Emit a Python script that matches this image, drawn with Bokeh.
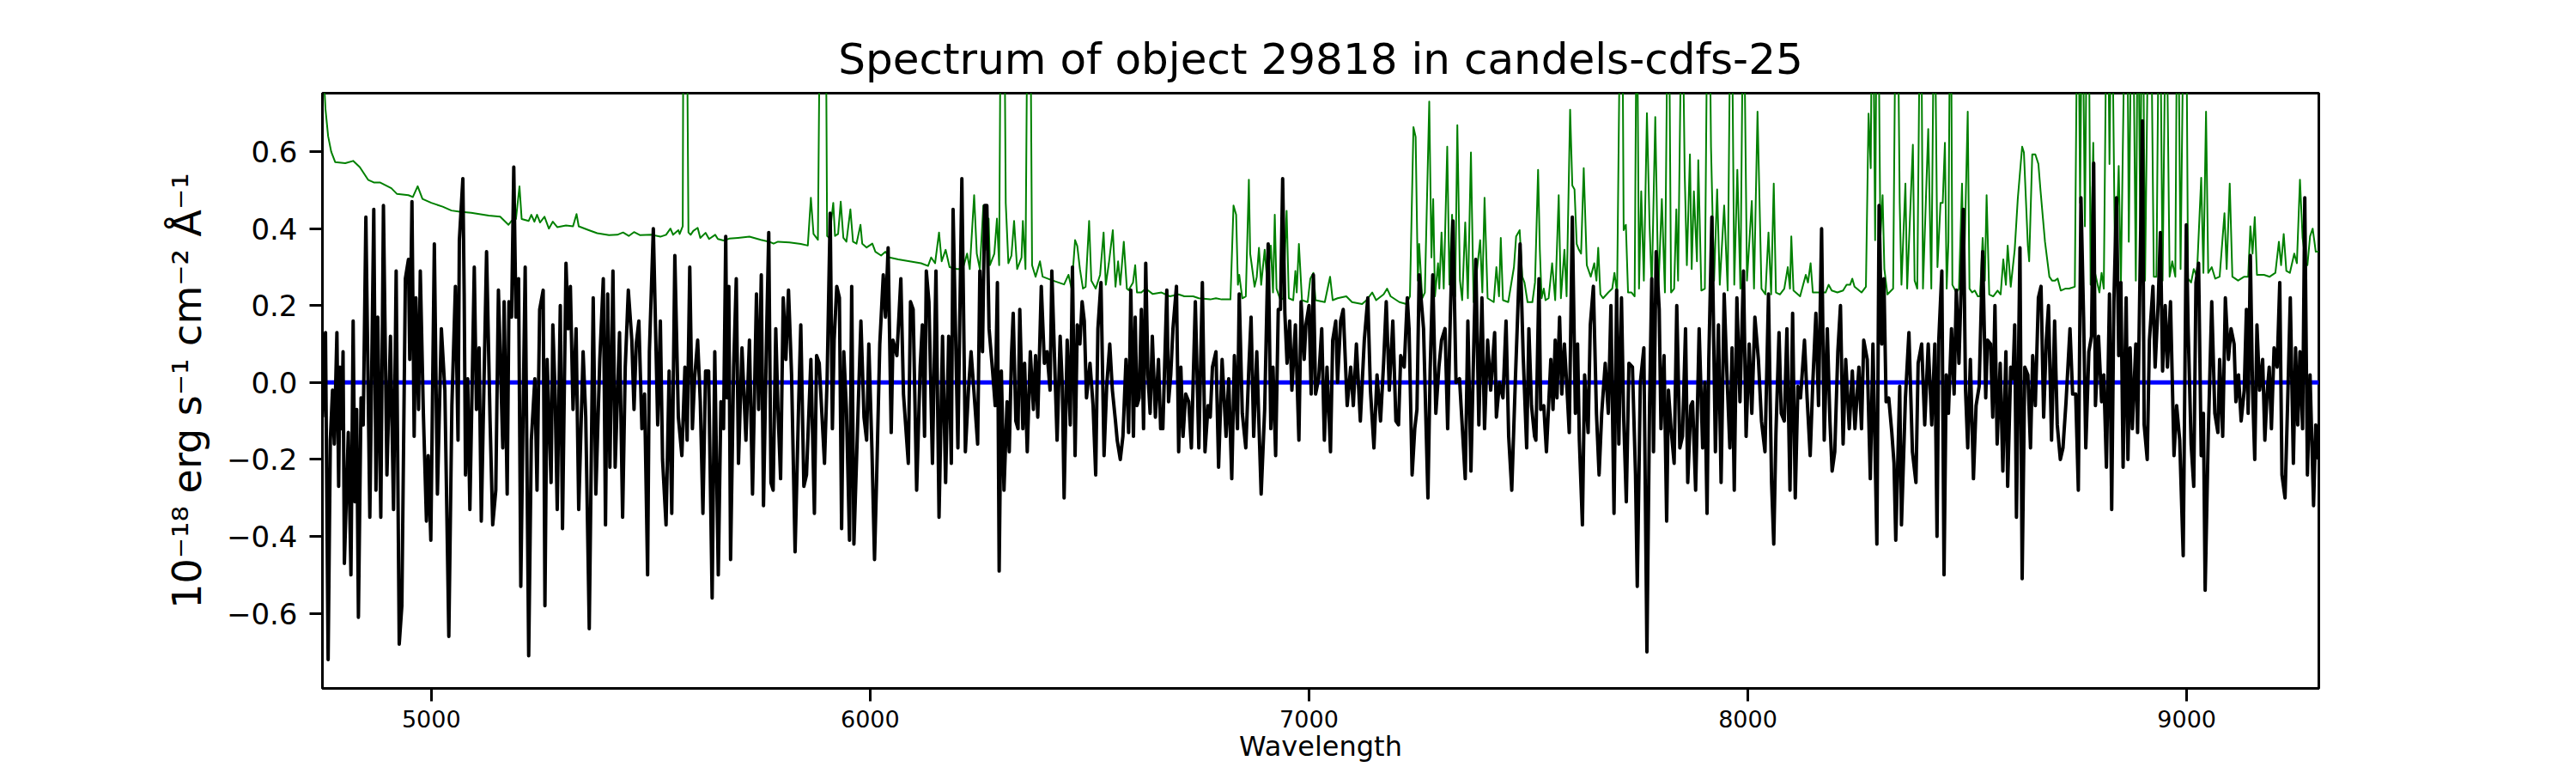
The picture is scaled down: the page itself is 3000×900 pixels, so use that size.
from bokeh.plotting import figure
from bokeh.models import Range1d, FixedTicker, CustomJSTickFormatter
from bokeh.embed import file_html
from bokeh.resources import INLINE

# ---------------- data ----------------
# observed flux, 1e-18 erg/s/cm2/A : (wavelength [A], flux)
flux_a = [(4752, -0.09), (4759, 0.13), (4765, -0.72), (4770, -0.15), (4775, -0.02), (4779, -0.16),
          (4785, 0.13), (4789, -0.27), (4792, 0.04), (4796, -0.12), (4799, 0.08), (4802, -0.47),
          (4811, -0.13), (4817, -0.50), (4822, 0.16), (4826, -0.31), (4830, -0.07), (4834, -0.61),
          (4840, -0.04), (4845, -0.11), (4851, 0.43), (4860, -0.35), (4869, 0.45), (4874, -0.28),
          (4878, 0.17), (4885, -0.35), (4891, 0.46), (4899, -0.24), (4907, 0.12), (4914, -0.33),
          (4920, 0.29), (4927, -0.68), (4933, -0.58), (4941, 0.27), (4948, 0.32), (4951, 0.06),
          (4956, 0.47), (4961, -0.14), (4965, 0.22), (4971, -0.07), (4975, 0.29), (4982, -0.08),
          (4989, -0.36), (4993, -0.19), (4999, -0.41), (5007, 0.36), (5014, -0.29), (5023, 0.14),
          (5031, -0.02), (5040, -0.66), (5047, -0.06), (5055, 0.25), (5061, -0.15), (5064, 0.37),
          (5072, 0.53), (5075, 0.23), (5078, -0.24), (5083, 0.01), (5088, -0.33), (5098, 0.30),
          (5103, -0.07), (5109, 0.09), (5114, -0.36), (5126, 0.34), (5134, -0.10), (5140, -0.37),
          (5147, -0.28), (5153, 0.24), (5163, -0.17), (5166, 0.21), (5173, -0.29), (5177, 0.21),
          (5183, 0.17), (5188, 0.56), (5193, 0.17), (5199, 0.27), (5204, -0.53), (5209, -0.10),
          (5214, 0.30), (5222, -0.71), (5228, -0.15), (5236, 0.01), (5241, -0.28), (5247, 0.19),
          (5255, 0.24), (5259, -0.58), (5264, 0.06), (5273, -0.26), (5277, 0.15), (5282, -0.02),
          (5287, -0.33), (5294, 0.20), (5299, -0.38), (5307, 0.31), (5312, 0.14), (5317, 0.25),
          (5323, -0.07), (5330, 0.14), (5336, -0.33), (5346, 0.08), (5352, -0.09), (5360, -0.64),
          (5369, 0.22), (5375, -0.29), (5384, 0.06), (5392, 0.27), (5397, -0.37), (5402, 0.23),
          (5407, -0.22), (5414, 0.29), (5419, -0.22), (5429, 0.13), (5436, -0.35), (5442, 0.04),
          (5449, 0.24), (5457, 0.11), (5462, -0.07), (5467, 0.10), (5473, 0.16), (5480, -0.12),
          (5486, -0.03), (5493, -0.50), (5497, 0.08), (5506, 0.40), (5516, -0.11), (5522, 0.16),
          (5527, -0.20), (5535, -0.37), (5542, 0.03), (5548, -0.34), (5555, 0.33), (5563, -0.09),
          (5571, -0.19), (5578, 0.04), (5583, -0.15), (5589, 0.30), (5595, -0.12), (5600, 0.01),
          (5607, 0.11), (5613, -0.05), (5619, -0.34), (5625, 0.03), (5632, 0.03), (5640, -0.56),
          (5646, 0.08), (5654, -0.50), (5660, -0.05), (5666, -0.12), (5671, 0.38)]

flux_b = [(5674, -0.04), (5678, 0.25), (5682, -0.46), (5689, 0.04), (5695, 0.27), (5700, -0.21),
          (5708, 0.09), (5717, -0.15), (5725, 0.11), (5732, -0.29), (5741, 0.23), (5746, -0.07),
          (5752, 0.28), (5757, -0.32), (5764, 0.12), (5769, 0.39), (5774, -0.26), (5779, -0.28),
          (5785, 0.14), (5790, -0.07), (5796, -0.25), (5802, 0.22), (5808, 0.06), (5814, 0.24),
          (5821, 0.02), (5829, -0.44), (5837, -0.06), (5842, 0.15), (5849, -0.27), (5855, -0.24),
          (5865, 0.06), (5873, -0.34), (5878, 0.07), (5884, 0.05), (5896, -0.21), (5902, 0.01),
          (5909, 0.44), (5914, -0.12), (5918, 0.11), (5924, 0.25), (5930, 0.22), (5935, -0.38),
          (5940, 0.08), (5946, -0.07), (5953, -0.41), (5958, 0.25), (5963, -0.42), (5971, -0.13),
          (5979, 0.16), (5986, -0.09), (5992, -0.15), (5997, 0.10), (6004, -0.17), (6010, -0.46),
          (6015, -0.24), (6022, 0.10), (6030, 0.28), (6035, 0.17), (6041, 0.35), (6048, -0.13),
          (6052, 0.11), (6061, 0.07), (6070, 0.27), (6076, -0.03), (6087, -0.21), (6092, 0.21),
          (6098, 0.19), (6106, -0.28), (6114, 0.04), (6119, 0.15), (6124, -0.14), (6128, 0.29),
          (6134, 0.21), (6142, -0.21), (6150, 0.29), (6157, -0.35), (6165, 0.12), (6172, -0.26),
          (6179, 0.12), (6185, -0.21), (6189, 0.45), (6200, -0.17), (6209, 0.53), (6217, -0.18),
          (6224, -0.02), (6230, 0.08), (6237, -0.03), (6245, -0.16), (6250, 0.29), (6256, 0.08),
          (6261, 0.46), (6266, 0.46), (6271, 0.14), (6279, 0.03), (6285, -0.06), (6290, 0.26),
          (6294, -0.49), (6299, 0.03), (6305, -0.28), (6312, -0.05), (6317, -0.18), (6322, 0.07),
          (6326, 0.18), (6332, -0.10), (6337, -0.12), (6341, 0.19), (6348, -0.12), (6352, 0.05),
          (6358, -0.18), (6365, 0.08), (6372, -0.07), (6377, 0.07), (6382, -0.09), (6390, 0.25),
          (6397, 0.05), (6403, 0.08), (6410, -0.02), (6414, 0.29), (6420, 0.07), (6426, -0.15),
          (6433, 0.12), (6438, -0.01), (6442, -0.30), (6449, 0.11), (6456, -0.11), (6461, 0.30),
          (6467, -0.19), (6472, 0.15), (6478, 0.10), (6483, 0.21), (6488, 0.16), (6493, -0.04),
          (6501, 0.05), (6508, -0.06), (6514, -0.24), (6519, 0.14), (6526, 0.26), (6533, -0.19),
          (6539, -0.01), (6546, 0.10), (6552, -0.02), (6559, -0.10), (6563, -0.15), (6570, -0.20),
          (6576, -0.14), (6583, 0.06), (6589, -0.13), (6594, 0.24)]

flux_c = [(6600, -0.14), (6604, 0.17), (6608, -0.06), (6613, -0.04), (6618, 0.19), (6623, -0.12),
          (6628, 0.31), (6633, 0.02), (6638, -0.08), (6643, 0.12), (6650, -0.09), (6657, 0.06),
          (6662, -0.12), (6667, -0.12), (6676, 0.24), (6680, -0.05), (6685, 0.02), (6690, 0.14),
          (6698, 0.25), (6703, -0.18), (6708, 0.04), (6713, -0.14), (6719, -0.03), (6726, -0.05),
          (6732, -0.17), (6741, 0.21), (6749, -0.17), (6757, 0.26), (6763, -0.18), (6770, -0.06),
          (6775, -0.09), (6780, 0.04), (6788, 0.08), (6794, -0.22), (6802, 0.06), (6811, -0.14),
          (6817, 0.01), (6824, -0.25), (6830, 0.07), (6837, -0.12), (6841, 0.23), (6848, -0.08),
          (6856, -0.17), (6863, 0.04), (6868, 0.17), (6874, -0.14), (6881, 0.08), (6886, -0.11),
          (6891, -0.29), (6899, -0.07), (6907, 0.36), (6913, -0.12), (6918, 0.04), (6924, -0.19),
          (6930, 0.19), (6935, 0.19), (6940, 0.53), (6945, 0.18), (6950, 0.05), (6956, 0.16),
          (6961, -0.02), (6969, 0.15), (6977, -0.15), (6982, 0.21), (6989, 0.06), (6993, 0.15),
          (7000, 0.20), (7005, -0.03), (7010, 0.28), (7015, -0.03), (7022, 0.01), (7029, 0.14),
          (7035, -0.15), (7041, 0.04), (7049, -0.18), (7054, 0.11), (7061, 0.16), (7065, 0.00),
          (7072, 0.16), (7078, 0.19), (7087, -0.06), (7095, 0.04), (7101, -0.06), (7108, 0.10),
          (7117, -0.10), (7126, 0.11), (7134, 0.22), (7140, -0.02), (7148, -0.17), (7155, 0.02),
          (7163, -0.10), (7170, 0.05), (7176, 0.21), (7183, -0.02), (7191, 0.16), (7198, -0.10),
          (7204, -0.11), (7209, 0.07), (7217, 0.04), (7224, 0.22), (7228, 0.14), (7235, -0.24),
          (7241, -0.12), (7246, -0.07), (7251, 0.28), (7261, 0.14), (7271, -0.30), (7276, 0.03),
          (7282, 0.28), (7289, -0.08), (7296, 0.04), (7302, 0.11), (7310, 0.14), (7316, -0.12),
          (7322, 0.17), (7328, 0.42), (7335, 0.00), (7343, 0.01), (7350, -0.13), (7356, -0.25),
          (7362, 0.16), (7369, -0.23), (7374, 0.02), (7380, 0.32), (7387, -0.11), (7394, 0.22),
          (7400, -0.12), (7407, 0.11), (7414, -0.02), (7423, 0.13), (7427, -0.09), (7434, 0.00),
          (7442, -0.04), (7449, 0.16), (7455, -0.14), (7462, -0.28), (7470, 0.00), (7475, 0.16),
          (7481, 0.36), (7488, 0.07), (7496, -0.17), (7501, 0.14), (7507, -0.06), (7514, -0.14)]

flux_d = [(7517, -0.15), (7524, 0.27), (7528, -0.07), (7535, -0.06), (7541, -0.18), (7546, -0.06),
          (7551, 0.06), (7556, -0.07), (7561, 0.11), (7565, -0.04), (7571, 0.17), (7576, -0.03),
          (7582, 0.10), (7588, -0.02), (7593, -0.13), (7600, 0.43), (7607, -0.08), (7612, 0.10),
          (7616, -0.15), (7623, -0.37), (7628, 0.02), (7636, -0.13), (7641, 0.15), (7648, 0.25),
          (7655, -0.08), (7661, -0.24), (7667, -0.08), (7675, 0.05), (7682, -0.08), (7688, 0.20),
          (7695, -0.34), (7701, 0.24), (7706, -0.16), (7712, 0.22), (7717, -0.09), (7723, -0.31),
          (7729, 0.05), (7737, 0.04), (7744, -0.24), (7748, -0.53), (7755, 0.00), (7763, 0.09),
          (7770, -0.70), (7776, -0.06), (7781, 0.27), (7785, -0.18), (7791, 0.34), (7798, 0.19),
          (7802, -0.12), (7809, 0.07), (7815, -0.36), (7819, -0.02), (7825, -0.12), (7832, -0.21),
          (7838, 0.20), (7845, -0.17), (7851, -0.14), (7858, 0.14), (7863, -0.26), (7870, -0.06),
          (7874, -0.05), (7881, -0.28), (7889, 0.14), (7897, -0.17), (7902, 0.00), (7907, -0.34),
          (7911, 0.06), (7918, 0.43), (7926, -0.18), (7933, 0.15), (7939, -0.26), (7946, 0.23),
          (7952, 0.03), (7959, -0.17), (7964, 0.09), (7969, -0.28), (7975, 0.22), (7982, -0.05),
          (7990, 0.29), (7996, -0.14), (8003, 0.10), (8009, -0.08), (8016, 0.17), (8024, 0.06),
          (8031, -0.10), (8039, -0.18), (8047, 0.23), (8054, -0.26), (8059, -0.42), (8064, -0.13),
          (8071, 0.13), (8076, -0.08), (8083, -0.10), (8089, 0.14), (8096, -0.28), (8102, 0.18),
          (8108, -0.30), (8114, -0.01), (8120, -0.04), (8129, 0.11), (8135, -0.04), (8142, -0.19),
          (8148, 0.00), (8155, 0.18), (8161, -0.06), (8168, 0.40), (8174, -0.15), (8181, 0.14),
          (8187, -0.10), (8192, -0.23), (8198, -0.18), (8205, 0.08), (8211, 0.20), (8217, -0.16),
          (8223, 0.06), (8231, -0.12), (8238, 0.03), (8244, -0.12), (8253, 0.04), (8259, -0.12),
          (8264, 0.11), (8272, 0.06), (8279, -0.25), (8285, 0.10), (8294, -0.42), (8299, 0.46),
          (8305, 0.10), (8310, 0.27), (8315, -0.05), (8321, -0.04), (8328, -0.13), (8333, -0.21),
          (8337, -0.41), (8346, -0.01), (8350, -0.37), (8359, -0.04), (8367, 0.13), (8375, -0.18),
          (8383, -0.26), (8388, 0.05), (8396, 0.10), (8403, -0.11), (8411, 0.10), (8419, -0.11),
          (8426, 0.10), (8431, -0.40), (8435, 0.11)]

flux_e = [(8442, 0.29), (8447, -0.50), (8452, 0.02), (8457, -0.08), (8464, 0.14), (8470, -0.03),
          (8475, 0.24), (8481, 0.05), (8484, 0.17), (8491, 0.45), (8496, -0.02), (8501, -0.17),
          (8507, 0.06), (8514, -0.25), (8520, -0.06), (8527, -0.01), (8535, 0.34), (8542, -0.04),
          (8546, 0.11), (8553, 0.10), (8558, -0.09), (8563, 0.20), (8568, -0.16), (8575, 0.05),
          (8581, -0.23), (8588, 0.08), (8592, -0.27), (8599, 0.04), (8604, 0.01), (8608, 0.15),
          (8612, -0.35), (8620, 0.35), (8625, -0.51), (8631, 0.04), (8638, 0.02), (8644, -0.17),
          (8649, 0.07), (8655, -0.06), (8662, 0.22), (8668, 0.25), (8674, -0.09), (8680, 0.11),
          (8685, 0.20), (8692, -0.15), (8699, 0.16), (8705, -0.11), (8712, -0.20), (8718, -0.17),
          (8725, -0.05), (8734, 0.14), (8740, -0.03), (8747, -0.03), (8753, -0.28), (8759, 0.48),
          (8765, 0.17), (8770, -0.17), (8777, 0.08), (8783, 0.12), (8788, 0.57), (8792, -0.06),
          (8799, 0.12), (8806, -0.05), (8811, 0.02), (8817, -0.22), (8824, 0.23), (8829, -0.33),
          (8834, 0.21), (8840, 0.48), (8845, 0.07), (8850, 0.26), (8855, -0.22), (8862, 0.22),
          (8866, -0.20), (8871, 0.09), (8876, -0.12), (8884, 0.10), (8888, -0.13), (8893, 0.24),
          (8899, 0.68), (8903, -0.11), (8910, -0.20), (8915, 0.11), (8923, 0.25), (8928, 0.04),
          (8935, 0.21), (8940, 0.39), (8945, 0.03), (8951, 0.20), (8956, 0.04), (8963, 0.21),
          (8971, -0.19), (8977, -0.06), (8984, -0.15), (8992, -0.45), (8999, 0.41), (9003, 0.15),
          (9010, -0.16), (9016, -0.27), (9021, 0.26), (9027, 0.31), (9033, -0.19), (9038, -0.08),
          (9042, -0.54), (9049, -0.14), (9057, 0.21), (9064, -0.08), (9071, -0.13), (9075, 0.06),
          (9082, -0.14), (9088, 0.22), (9095, 0.06), (9101, 0.14), (9108, 0.10), (9112, -0.05),
          (9118, 0.02), (9124, -0.10), (9131, -0.02), (9136, 0.19), (9140, -0.08), (9145, 0.33),
          (9150, -0.02), (9155, -0.20), (9160, 0.15), (9166, -0.02), (9173, 0.06), (9178, -0.15),
          (9183, -0.03), (9188, 0.04), (9193, -0.12), (9199, 0.09), (9206, 0.04), (9212, 0.26),
          (9217, -0.24), (9224, -0.30), (9230, -0.05), (9236, 0.22), (9243, -0.21), (9248, 0.09),
          (9253, -0.11), (9258, 0.08), (9264, -0.12), (9269, 0.48), (9275, -0.24), (9281, 0.02),
          (9289, -0.32), (9294, -0.11), (9300, -0.20)]

# green curve (sky / noise spectrum); values above 0.75 run off the top of the frame
sky_a = [(4752, 1.20), (4755, 0.80), (4759, 0.71), (4765, 0.64), (4772, 0.60), (4781, 0.573),
         (4804, 0.570), (4822, 0.576), (4837, 0.560), (4856, 0.527), (4869, 0.520), (4883, 0.520),
         (4909, 0.505), (4922, 0.490), (4948, 0.487), (4958, 0.482), (4969, 0.510), (4980, 0.477),
         (5000, 0.467), (5026, 0.457), (5046, 0.447), (5065, 0.444), (5091, 0.441), (5131, 0.434),
         (5157, 0.431), (5176, 0.410), (5183, 0.420), (5193, 0.425), (5201, 0.510), (5206, 0.425),
         (5222, 0.420), (5228, 0.436), (5235, 0.418), (5241, 0.436), (5248, 0.416), (5258, 0.431),
         (5268, 0.400), (5277, 0.418), (5287, 0.404), (5307, 0.408), (5323, 0.406), (5331, 0.438),
         (5336, 0.406), (5359, 0.396), (5378, 0.388), (5405, 0.383), (5424, 0.384), (5437, 0.390),
         (5450, 0.381), (5462, 0.391), (5476, 0.383), (5502, 0.384), (5522, 0.379), (5535, 0.384),
         (5545, 0.400), (5551, 0.384), (5563, 0.396), (5566, 0.386), (5573, 0.406), (5576, 1.60),
         (5578, 2.00), (5580, 1.40), (5586, 0.390), (5591, 0.384), (5597, 0.394), (5607, 0.402),
         (5613, 0.376), (5625, 0.389), (5633, 0.373), (5647, 0.384), (5653, 0.373), (5666, 0.369)]

sky_b = [(5679, 0.374), (5699, 0.376), (5725, 0.379), (5751, 0.371), (5770, 0.366), (5780, 0.361),
         (5790, 0.366), (5816, 0.364), (5842, 0.360), (5858, 0.356), (5865, 0.480), (5871, 0.386),
         (5881, 0.371), (5888, 1.30), (5893, 0.90), (5898, 1.20), (5902, 0.381), (5907, 0.376),
         (5916, 0.467), (5920, 0.381), (5927, 0.386), (5933, 0.470), (5939, 0.376), (5946, 0.366),
         (5955, 0.450), (5961, 0.366), (5969, 0.361), (5978, 0.410), (5982, 0.361), (5992, 0.351),
         (6005, 0.361), (6012, 0.340), (6025, 0.330), (6035, 0.340), (6044, 0.325), (6064, 0.320),
         (6090, 0.315), (6116, 0.310), (6132, 0.303), (6139, 0.325), (6148, 0.310), (6157, 0.390),
         (6163, 0.315), (6172, 0.345), (6181, 0.300), (6198, 0.295), (6211, 0.295), (6221, 0.335),
         (6227, 0.295), (6237, 0.487), (6243, 0.335), (6250, 0.295), (6258, 0.460), (6263, 0.345),
         (6270, 0.426), (6273, 0.305), (6283, 0.335), (6289, 0.426), (6294, 0.305), (6300, 1.50),
         (6304, 1.30), (6309, 0.467), (6315, 0.310), (6322, 0.330), (6328, 0.420), (6335, 0.295),
         (6345, 0.325), (6348, 0.420), (6354, 0.295), (6361, 1.40), (6364, 1.20), (6369, 0.305),
         (6377, 0.275), (6387, 0.315), (6393, 0.275), (6416, 0.265), (6442, 0.255), (6452, 0.280),
         (6459, 0.244), (6467, 0.370), (6472, 0.355), (6478, 0.295), (6485, 0.244), (6491, 0.249),
         (6499, 0.420), (6504, 0.265), (6514, 0.244), (6524, 0.280), (6532, 0.390), (6537, 0.254),
         (6544, 0.310), (6553, 0.396), (6559, 0.249), (6565, 0.315), (6570, 0.254), (6578, 0.366),
         (6585, 0.244), (6589, 0.240), (6599, 0.260)]

sky_c = [(6604, 0.305), (6608, 0.234), (6618, 0.234), (6628, 0.244), (6644, 0.230), (6664, 0.234),
         (6683, 0.224), (6703, 0.229), (6716, 0.224), (6736, 0.224), (6749, 0.219), (6775, 0.216),
         (6788, 0.219), (6801, 0.216), (6821, 0.216), (6828, 0.460), (6834, 0.436), (6838, 0.254),
         (6841, 0.280), (6848, 0.219), (6856, 0.224), (6863, 0.527), (6866, 0.335), (6869, 0.310),
         (6876, 0.249), (6881, 0.275), (6886, 0.350), (6891, 0.254), (6899, 0.345), (6905, 0.259),
         (6913, 0.356), (6918, 0.234), (6922, 0.436), (6926, 0.244), (6935, 0.214), (6941, 0.219),
         (6949, 0.446), (6954, 0.219), (6964, 0.214), (6969, 0.290), (6972, 0.234), (6977, 0.360),
         (6984, 0.214), (6997, 0.209), (7003, 0.270), (7010, 0.285), (7015, 0.214), (7036, 0.209),
         (7048, 0.275), (7054, 0.214), (7065, 0.219), (7085, 0.224), (7098, 0.209), (7121, 0.204),
         (7131, 0.214), (7144, 0.234), (7153, 0.214), (7170, 0.229), (7178, 0.244), (7186, 0.224),
         (7206, 0.209), (7222, 0.204), (7230, 0.224), (7238, 0.664), (7243, 0.638), (7248, 0.265),
         (7251, 0.360), (7258, 0.219), (7264, 0.234), (7274, 0.730), (7279, 0.325), (7283, 0.477),
         (7287, 0.224), (7294, 0.310), (7297, 0.244), (7302, 0.390), (7307, 0.244), (7315, 0.613),
         (7320, 0.254), (7326, 0.436), (7333, 0.224), (7338, 0.669), (7344, 0.265), (7349, 0.214),
         (7356, 0.416), (7362, 0.219), (7369, 0.598), (7375, 0.209), (7390, 0.370), (7395, 0.234),
         (7400, 0.480), (7407, 0.219), (7421, 0.209), (7427, 0.300), (7433, 0.224), (7437, 0.376),
         (7442, 0.214), (7454, 0.209), (7467, 0.300), (7472, 0.380), (7480, 0.396), (7486, 0.275),
         (7491, 0.260), (7498, 0.209), (7509, 0.209)]

sky_d = [(7515, 0.260), (7522, 0.553), (7526, 0.345), (7530, 0.219), (7535, 0.244), (7539, 0.214),
         (7546, 0.219), (7554, 0.310), (7561, 0.214), (7569, 0.487), (7574, 0.219), (7582, 0.345),
         (7587, 0.224), (7595, 0.709), (7600, 0.512), (7605, 0.502), (7610, 0.360), (7615, 0.345),
         (7620, 0.335), (7626, 0.557), (7633, 0.305), (7642, 0.275), (7650, 0.310), (7655, 0.265),
         (7659, 0.350), (7664, 0.229), (7670, 0.219), (7682, 0.234), (7691, 0.244), (7696, 0.285),
         (7702, 0.234), (7711, 1.20), (7714, 1.00), (7717, 0.396), (7722, 0.410), (7727, 0.234),
         (7735, 0.234), (7742, 0.224), (7747, 1.10), (7752, 0.244), (7757, 0.497), (7763, 0.265),
         (7770, 0.700), (7776, 0.410), (7781, 0.244), (7789, 0.690), (7796, 0.239), (7804, 0.477),
         (7811, 0.234), (7819, 1.20), (7825, 0.234), (7832, 0.244), (7837, 0.450), (7841, 0.265),
         (7850, 1.10), (7856, 0.547), (7861, 0.305), (7868, 0.593), (7872, 0.295), (7877, 0.497),
         (7884, 0.315), (7887, 0.578), (7894, 0.239), (7902, 0.244), (7910, 1.30), (7916, 0.613),
         (7923, 0.265), (7930, 0.502), (7936, 0.254), (7946, 0.460), (7954, 0.239), (7962, 1.20),
         (7969, 0.254), (7976, 0.553), (7983, 0.244), (7990, 1.10), (7998, 0.265), (8009, 0.472),
         (8014, 0.244), (8022, 0.704), (8031, 0.244), (8040, 0.229), (8047, 0.390), (8053, 0.229),
         (8059, 0.517), (8064, 0.234), (8073, 0.229), (8083, 0.244), (8091, 0.300), (8096, 0.244),
         (8099, 0.380), (8104, 0.239), (8119, 0.224), (8132, 0.280), (8137, 0.260), (8143, 0.310),
         (8148, 0.234), (8164, 0.234), (8177, 0.234), (8184, 0.254), (8191, 0.239), (8204, 0.234),
         (8217, 0.239), (8225, 0.254), (8233, 0.254), (8238, 0.270), (8243, 0.249), (8259, 0.234),
         (8269, 0.249), (8275, 0.699), (8280, 0.557), (8284, 1.20), (8290, 0.370), (8295, 1.30),
         (8302, 0.376), (8307, 0.487), (8311, 0.295), (8318, 0.229), (8331, 0.244), (8339, 1.30),
         (8346, 0.467), (8350, 0.254), (8359, 0.517), (8363, 0.244), (8376, 0.618), (8380, 0.265),
         (8386, 0.244), (8394, 1.20), (8399, 0.244), (8411, 0.659), (8418, 0.244), (8425, 1.10),
         (8432, 0.300)]

sky_e = [(8439, 0.467), (8444, 0.467), (8449, 0.623), (8453, 0.244), (8457, 0.366), (8462, 1.20),
         (8466, 0.254), (8475, 0.234), (8481, 0.244), (8488, 0.517), (8492, 0.254), (8501, 0.704),
         (8505, 0.244), (8511, 0.234), (8517, 0.239), (8524, 0.224), (8529, 0.224), (8535, 0.376),
         (8540, 0.265), (8544, 0.487), (8550, 0.229), (8559, 0.224), (8569, 0.239), (8576, 0.229),
         (8582, 0.320), (8588, 0.254), (8592, 0.356), (8599, 0.249), (8608, 0.345), (8615, 0.477),
         (8625, 0.613), (8629, 0.598), (8638, 0.356), (8641, 0.315), (8648, 0.593), (8655, 0.593),
         (8662, 0.568), (8667, 0.497), (8677, 0.366), (8687, 0.275), (8693, 0.265), (8700, 0.265),
         (8706, 0.270), (8713, 0.239), (8723, 0.244), (8732, 0.244), (8745, 0.249), (8752, 1.20),
         (8757, 0.467), (8762, 1.10), (8768, 0.406), (8775, 1.30), (8781, 0.254), (8787, 0.623),
         (8791, 0.285), (8801, 0.234), (8806, 0.285), (8811, 0.244), (8819, 1.20), (8824, 0.568),
         (8829, 1.10), (8837, 0.265), (8845, 0.563), (8850, 0.254), (8863, 1.30), (8868, 0.366),
         (8876, 1.20), (8884, 0.265), (8889, 1.10), (8894, 0.400), (8899, 1.20), (8905, 0.265),
         (8916, 1.30), (8925, 0.275), (8931, 0.275), (8938, 1.20), (8945, 0.265), (8953, 1.10),
         (8961, 0.275), (8967, 0.315), (8974, 0.275), (8979, 1.20), (8986, 0.295), (8994, 1.10),
         (8999, 1.00), (9003, 0.270), (9010, 0.260), (9016, 0.295), (9023, 0.275), (9033, 0.532),
         (9038, 0.285), (9044, 0.704), (9049, 0.285), (9057, 0.300), (9065, 0.270), (9075, 0.275),
         (9086, 0.440), (9091, 0.295), (9098, 0.517), (9104, 0.275), (9117, 0.265), (9131, 0.275),
         (9140, 0.275), (9145, 0.406), (9150, 0.335), (9155, 0.430), (9160, 0.280), (9176, 0.280),
         (9189, 0.275), (9202, 0.285), (9210, 0.366), (9215, 0.305), (9221, 0.386), (9227, 0.290),
         (9235, 0.285), (9245, 0.335), (9251, 0.310), (9258, 0.527), (9264, 0.376), (9271, 0.310),
         (9275, 0.305), (9281, 0.380), (9287, 0.400), (9294, 0.340), (9300, 0.340)]

# blue model curve (flat at zero)
model_wave = [4752, 9301]
model_flux = [0.0, 0.0]

x_limits = (4752, 9301)
y_limits = (-0.795, 0.752)
x_ticks = [5000, 6000, 7000, 8000, 9000]
y_ticks = [-0.6, -0.4, -0.2, 0.0, 0.2, 0.4, 0.6]
title_text = "Spectrum of object 29818 in candels-cdfs-25"
x_label = "Wavelength"
y_label = "10\u207b\u00b9\u2078 erg s\u207b\u00b9 cm\u207b\u00b2 \u00c5\u207b\u00b9"

# ---------------- assemble ----------------
flux_points = flux_a + flux_b + flux_c + flux_d + flux_e
flux_wave = [w for w, _ in flux_points]
flux = [f for _, f in flux_points]
sky_points = sky_a + sky_b + sky_c + sky_d + sky_e
sky_wave = [w for w, _ in sky_points]
sky = [s for _, s in sky_points]

FONT = "DejaVu Sans"

p = figure(width=2984, height=896, output_backend="svg", toolbar_location=None,
           x_range=Range1d(*x_limits), y_range=Range1d(*y_limits),
           frame_width=2325, frame_height=693,
           min_border_left=375, min_border_right=284, min_border_top=108, min_border_bottom=95,
           background_fill_color="white", border_fill_color="white")

p.title.text = title_text
p.title.align = "center"
p.title.text_font = FONT
p.title.text_font_size = "50px"
p.title.text_font_style = "normal"
p.title.text_color = "black"
p.title.standoff = 21

p.xgrid.visible = False
p.ygrid.visible = False
p.outline_line_color = "black"
p.outline_line_width = 3
p.outline_line_alpha = 1.0

p.line(sky_wave, sky, line_color="#008000", line_width=2, line_join="round")
p.line(model_wave, model_flux, line_color="#0000ff", line_width=5)
p.line(flux_wave, flux, line_color="black", line_width=4, line_join="round")

for ax in (p.xaxis[0], p.yaxis[0]):
    ax.axis_line_color = "black"
    ax.axis_line_width = 3
    ax.major_tick_line_color = "black"
    ax.major_tick_line_width = 3
    ax.major_tick_out = 15
    ax.major_tick_in = 0
    ax.minor_tick_line_color = None
    ax.major_label_text_color = "black"
    ax.major_label_text_font = FONT
    ax.axis_label_text_font = FONT
    ax.axis_label_text_font_style = "normal"
    ax.axis_label_text_color = "black"

xa = p.xaxis[0]
xa.ticker = FixedTicker(ticks=x_ticks, minor_ticks=[])
xa.major_label_text_font_size = "27px"
xa.major_label_standoff = 10
xa.axis_label = x_label
xa.axis_label_text_font_size = "32px"
xa.axis_label_standoff = 0

ya = p.yaxis[0]
ya.ticker = FixedTicker(ticks=y_ticks, minor_ticks=[])
ya.formatter = CustomJSTickFormatter(code="return tick.toFixed(1).replace('-', '\\u2212');")
ya.major_label_text_font_size = "34px"
ya.major_label_standoff = 14
ya.axis_label = y_label
ya.axis_label_text_font_size = "46px"
ya.axis_label_standoff = 16

open("out.html", "w").write(file_html(p, INLINE))
